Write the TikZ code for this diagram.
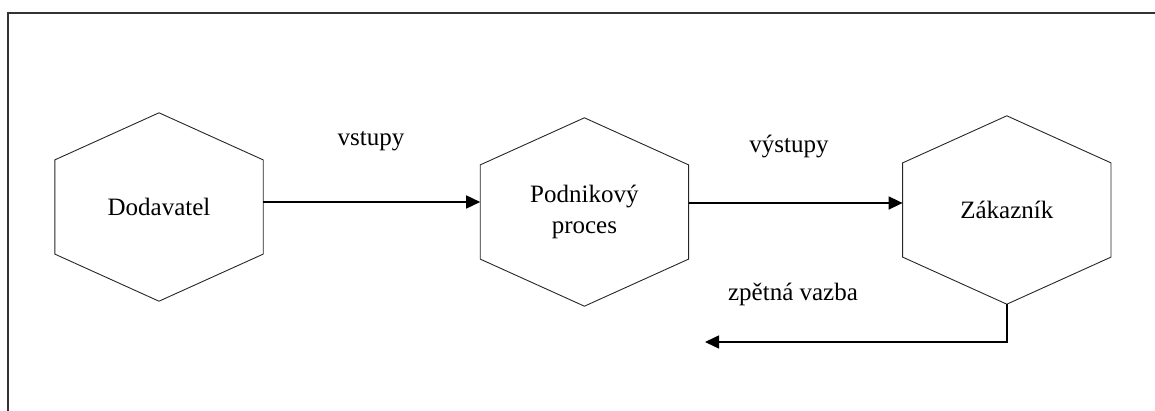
\documentclass[tikz,border=0pt]{standalone}
\usepackage{fontspec}
\setmainfont{Liberation Serif}
\usetikzlibrary{arrows.meta,positioning,calc}

\begin{document}
\begin{tikzpicture}[x=1pt,y=-1pt,>={Triangle[length=14pt,width=13pt]},
    hex node/.style={minimum width=208pt,minimum height=188pt,inner sep=0pt,
      align=center,font=\fontsize{25}{31}\selectfont},
    flow text/.style={font=\fontsize{25}{29}\selectfont},
    flow/.style={->,line width=1.6pt}]

  \useasboundingbox (0,0) rectangle (1155,411);
  \draw[line width=2pt,black!80] (8,420) -- (8,13) -- (1165,13);

  \node[hex node] (dod) at (159,207) {Dodavatel};
  \node[hex node,right=217pt of dod,yshift=-5pt] (proc) {Podnikový\\proces};
  \node[hex node,right=214pt of proc,yshift=2pt] (zak) {Zákazník};

  % hexagon outlines
  \foreach \n in {dod,proc,zak}
    \draw[line width=0.9pt,black!85] (\n.north)
      -- ($(\n.north east)!0.25!(\n.south east)$)
      -- ($(\n.north east)!0.75!(\n.south east)$)
      -- (\n.south)
      -- ($(\n.north west)!0.75!(\n.south west)$)
      -- ($(\n.north west)!0.25!(\n.south west)$) -- cycle;

  \node[flow text] (in) at (371,141) {vstupy};
  \node[flow text] (out) at (789,147) {výstupy};
  \node[flow text] (fb) at (793,294) {zpětná vazba};

  \coordinate (back) at (705,342);

  \draw[flow] ([yshift=5pt]dod.east) -- ([yshift=5pt]dod.east -| proc.west);
  \draw[flow] ([yshift=9pt]proc.east) -- ([yshift=9pt]proc.east -| zak.west);
  \draw[flow] (zak.south) |- (back);
\end{tikzpicture}
\end{document}
